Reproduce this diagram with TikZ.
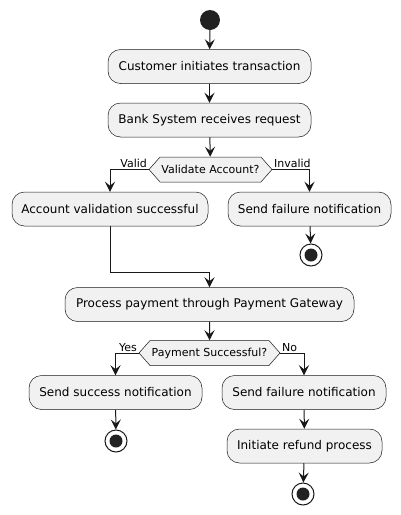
\documentclass[tikz,border=0pt]{standalone}
\usepackage{fontspec}
\setmainfont{DejaVu Sans}
\usetikzlibrary{arrows.meta,positioning,shapes.symbols}
\definecolor{actfill}{HTML}{F1F1F1}
\definecolor{actline}{HTML}{181818}
\definecolor{startfill}{HTML}{222222}
\tikzset{font=\fontsize{12}{14}\selectfont}
\tikzset{act/.style={draw=actline, fill=actfill, rounded corners=12.5pt, minimum height=34pt, inner sep=0pt, line width=0.5pt}}
\tikzset{dec/.style={signal, signal to=west and east, signal pointer angle=97, draw=actline, fill=actfill, inner sep=0pt, minimum height=25pt, font=\fontsize{11}{13}\selectfont, line width=0.5pt}}
\tikzset{startnode/.style={circle, fill=startfill, minimum size=20pt, inner sep=0pt}}
\tikzset{stopnode/.style={circle, draw=actline, fill=white, minimum size=22pt, inner sep=0pt, line width=1pt,
  path picture={\fill[startfill] (path picture bounding box.center) circle (6.5pt);}}}
\tikzset{flow/.style={draw=actline, line width=1pt, -{Stealth[length=10pt,width=10pt,inset=4pt]}}}
\tikzset{guard/.style={font=\fontsize{11}{13}\selectfont, inner sep=1.5pt}}

\begin{document}
\begin{tikzpicture}[x=1pt, y=-1pt]
\useasboundingbox (0,0) rectangle (401,515);
\node[startnode] (start) at (210,20) {};
\node[act, minimum width=203pt] (cust) at (209.5,66.5) {Customer initiates transaction};
\node[act, minimum width=203pt] (bank) at (209.5,120) {Bank System receives request};
\node[dec, minimum width=123pt] (valq) at (210.5,169.5) {Validate Account?};
\node[act, minimum width=196pt] (valok) at (110,209) {Account validation successful};
\node[act, minimum width=163pt] (fail1) at (309.5,209) {Send failure notification};
\node[stopnode] (stop1) at (311,255) {};
\coordinate (mrg) at (209.5,272);
\node[act, minimum width=289pt] (proc) at (209.5,304.5) {Process payment through Payment Gateway};
\node[dec, minimum width=141pt] (payq) at (209.5,353) {Payment Successful?};
\node[act, minimum width=173pt] (okmsg) at (115.5,392.5) {Send success notification};
\node[stopnode] (stop2) at (116,441) {};
\node[act, minimum width=164pt] (fail2) at (304,392.5) {Send failure notification};
\node[act, minimum width=155pt] (refund) at (304.5,446) {Initiate refund process};
\node[stopnode] (stop3) at (303,494) {};

\draw[flow] (start) -- (cust);
\draw[flow] (cust) -- (bank);
\draw[flow] (bank) -- (valq);
\draw[flow] (valq.west) -| (valok.north);
\node[guard, anchor=south east] (valid) at (valq.west) {Valid};
\draw[flow] (valq.east) -| (fail1.north);
\node[guard, anchor=south west] (invalid) at (valq.east) {Invalid};
\draw[flow] (fail1) -- (stop1);
\draw[flow] (valok.south) |- (mrg) -- (proc.north);
\draw[flow] (proc) -- (payq);
\draw[flow] (payq.west) -| (okmsg.north);
\node[guard, anchor=south east] (yes) at (payq.west) {Yes};
\draw[flow] (payq.east) -| (fail2.north);
\node[guard, anchor=south west] (no) at (payq.east) {No};
\draw[flow] (okmsg) -- (stop2);
\draw[flow] (fail2) -- (refund);
\draw[flow] (refund) -- (stop3);
\end{tikzpicture}
\end{document}
